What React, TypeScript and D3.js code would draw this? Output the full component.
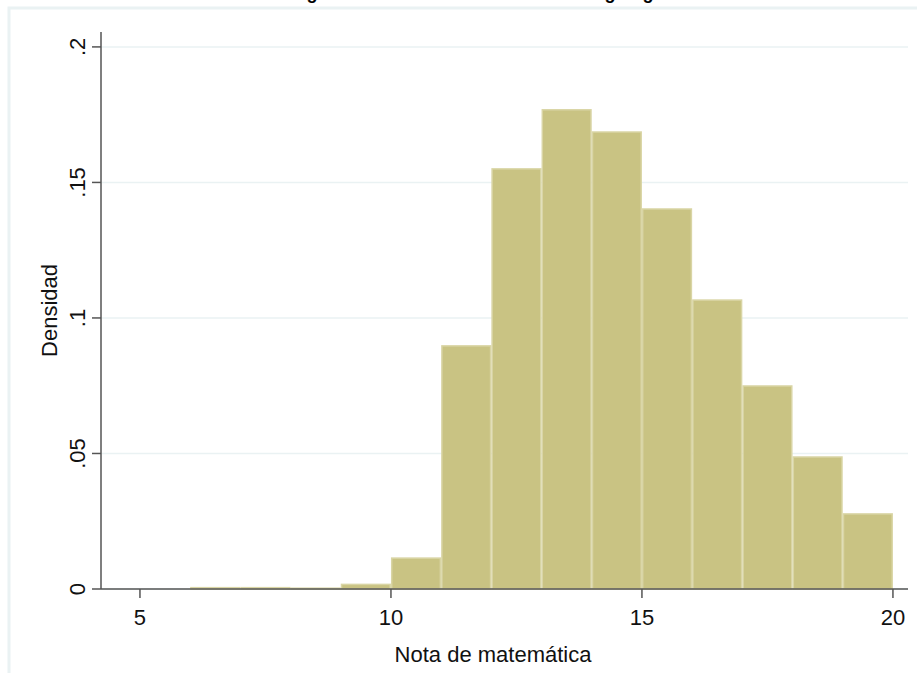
import React from "react";
import * as d3 from "d3";

const binStarts = [6, 7, 8, 9, 10, 11, 12, 13, 14, 15, 16, 17, 18, 19];
const densities = [0.0005, 0.0005, 0.0003, 0.0017, 0.0114, 0.0897, 0.155, 0.1768, 0.1686, 0.1402, 0.1066, 0.0749, 0.0487, 0.0277];
const binWidth = 1;
const xTicks = [5, 10, 15, 20];
const yTicks = [0, 0.05, 0.1, 0.15, 0.2];
const yTickLabels = ["0", ".05", ".1", ".15", ".2"];
const titleText = "Histograma de la nota de matemática según género";
const xTitle = "Nota de matemática";
const yTitle = "Densidad";

const W = 917;
const H = 673;
const FONT = "Arial, 'Liberation Sans', Helvetica, sans-serif";

export default function App() {
  const x = d3.scaleLinear().domain([4.224, 20.3]).range([101, 908]);
  const y = d3.scaleLinear().domain([0, 0.2055]).range([589, 32]);
  const [x0, x1] = x.range();
  const [y0, y1] = y.range();

  return (
    <svg width={W} height={H} style={{ position: "absolute", left: 0, top: 0, display: "block" }}>
      <rect x={0} y={0} width={W} height={H} fill="#ffffff" />
      {/* outer graph region frame */}
      <rect x={9} y={8} width={W} height={H} fill="none" stroke="#eaf2f3" strokeWidth={3} />
      <text x={482} y={-1} textAnchor="middle" fontFamily={FONT} fontWeight="bold" fontSize={18} fill="#000">
        {titleText}
      </text>
      {/* gridlines */}
      {yTicks.map((t) => (
        <line key={"g" + t} x1={x0} x2={x1} y1={y(t)} y2={y(t)} stroke="#eaf2f3" strokeWidth={1.5} />
      ))}
      {/* bars */}
      {binStarts.map((b, i) => (
        <rect
          key={"b" + b}
          x={x(b) + 0.75}
          y={y(densities[i])}
          width={x(b + binWidth) - x(b) - 1.5}
          height={Math.max(0, y(0) - y(densities[i]))}
          fill="#c9c383"
          stroke="#d9d5a5"
          strokeWidth={1.5}
        />
      ))}
      {/* axes */}
      <line x1={x0} x2={x0} y1={y1} y2={y0} stroke="#555" strokeWidth={1.5} />
      <line x1={x0} x2={x1} y1={y0} y2={y0} stroke="#555" strokeWidth={1.5} />
      {yTicks.map((t, i) => (
        <g key={"yt" + t}>
          <line x1={x0 - 9} x2={x0} y1={y(t)} y2={y(t)} stroke="#555" strokeWidth={1.5} />
          <text
            transform={`translate(${x0 - 16},${y(t)}) rotate(-90)`}
            textAnchor="middle"
            fontFamily={FONT}
            fontSize={22}
            fill="#111"
          >
            {yTickLabels[i]}
          </text>
        </g>
      ))}
      {xTicks.map((t) => (
        <g key={"xt" + t}>
          <line x1={x(t)} x2={x(t)} y1={y0} y2={y0 + 9} stroke="#555" strokeWidth={1.5} />
          <text x={x(t)} y={y0 + 36} textAnchor="middle" fontFamily={FONT} fontSize={22} fill="#111">
            {t}
          </text>
        </g>
      ))}
      <text x={493} y={662} textAnchor="middle" fontFamily={FONT} fontSize={22} fill="#111">
        {xTitle}
      </text>
      <text
        transform={`translate(57,${(y0 + y1) / 2}) rotate(-90)`}
        textAnchor="middle"
        fontFamily={FONT}
        fontSize={22}
        fill="#111"
      >
        {yTitle}
      </text>
    </svg>
  );
}
